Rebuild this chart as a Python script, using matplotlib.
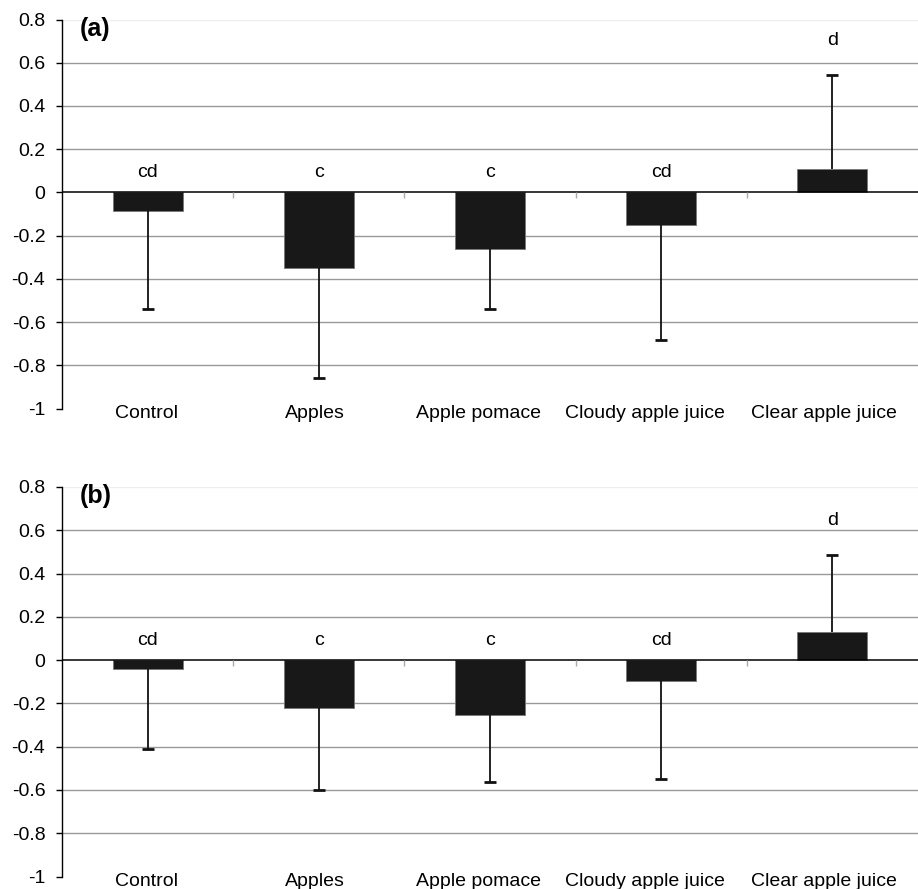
import matplotlib
matplotlib.use("Agg")
import matplotlib.pyplot as plt
from matplotlib.transforms import blended_transform_factory, ScaledTranslation

plt.rcParams["font.family"] = ["Liberation Sans", "DejaVu Sans"]

categories = ["Control", "Apples", "Apple pomace", "Cloudy apple juice", "Clear apple juice"]

# panel (a)
means_a = [-0.084, -0.35, -0.26, -0.15, 0.109]
sd_a = [0.456, 0.51, 0.28, 0.533, 0.434]
letters_a = ["cd", "c", "c", "cd", "d"]

# panel (b)
means_b = [-0.04, -0.222, -0.252, -0.095, 0.13]
sd_b = [0.373, 0.378, 0.312, 0.455, 0.354]
letters_b = ["cd", "c", "c", "cd", "d"]

yticks = [-1, -0.8, -0.6, -0.4, -0.2, 0, 0.2, 0.4, 0.6, 0.8]
ytick_labels = ["-1", "-0.8", "-0.6", "-0.4", "-0.2", "0", "0.2", "0.4", "0.6", "0.8"]

FS = 14
# Excel squeezes the long category labels to the left a bit (pixels)
LABEL_SHIFT = [-1.5, -4, -11.5, -16, -8.5]


def draw_panel(fig, ax, means, sds, letters, tag):
    x = list(range(len(categories)))
    ax.set_xlim(-0.5, len(categories) - 0.5)
    ax.set_ylim(-1, 0.8)

    # grid lines (Excel style, no line at the top)
    for y in yticks[1:-1]:
        if y != 0:
            ax.axhline(y, color="#999999", lw=1, zorder=0)
    ax.axhline(0.8, color="#eeeeee", lw=1, zorder=0)

    ax.bar(x, means, width=0.41, color="#181818", edgecolor="#777777",
           linewidth=0.6, zorder=3)

    # one-sided error bars, pointing away from zero
    ends = [m + s if m >= 0 else m - s for m, s in zip(means, sds)]
    ax.vlines(x, means, ends, color="#111111", lw=1.3, zorder=4)
    ax.plot(x, ends, ls="none", marker="_", markersize=8, mew=2,
            color="#111111", zorder=4)

    # zero axis line with small category ticks
    ax.axhline(0, color="black", lw=1.1, zorder=5)
    ax.vlines([i + 0.5 for i in x[:-1]], -0.025, 0, color="#aaaaaa", lw=1, zorder=5)

    for xi, m, e, lab in zip(x, means, ends, letters):
        ty = e + 0.16 if m >= 0 else 0.09
        ax.text(xi, ty, lab, ha="center", va="center", fontsize=FS, zorder=6)

    trans = blended_transform_factory(ax.transData, ax.transAxes)
    for xi, name, dx in zip(x, categories, LABEL_SHIFT):
        t = trans + ScaledTranslation(dx / 100, 0, fig.dpi_scale_trans)
        ax.text(xi, -0.012, name, transform=t, ha="center", va="center",
                fontsize=FS)

    for side in ["top", "right", "bottom"]:
        ax.spines[side].set_visible(False)
    ax.spines["left"].set_linewidth(1)
    ax.set_xticks([])
    ax.set_yticks(yticks)
    ax.set_yticklabels(ytick_labels, fontsize=FS)
    ax.tick_params(axis="y", direction="out", length=4, width=1, pad=8)

    ax.text(0.021, 0.976, tag, transform=ax.transAxes, ha="left", va="center",
            fontsize=18, fontweight="bold")


fig = plt.figure(figsize=(9.18, 8.89), dpi=100)
ax_a = fig.add_axes([62 / 918, 1 - 408.5 / 889, 856 / 918, 389 / 889])
ax_b = fig.add_axes([62 / 918, 1 - 876.5 / 889, 856 / 918, 389.5 / 889])

draw_panel(fig, ax_a, means_a, sd_a, letters_a, "(a)")
draw_panel(fig, ax_b, means_b, sd_b, letters_b, "(b)")

fig.savefig("out.png", dpi=100)
